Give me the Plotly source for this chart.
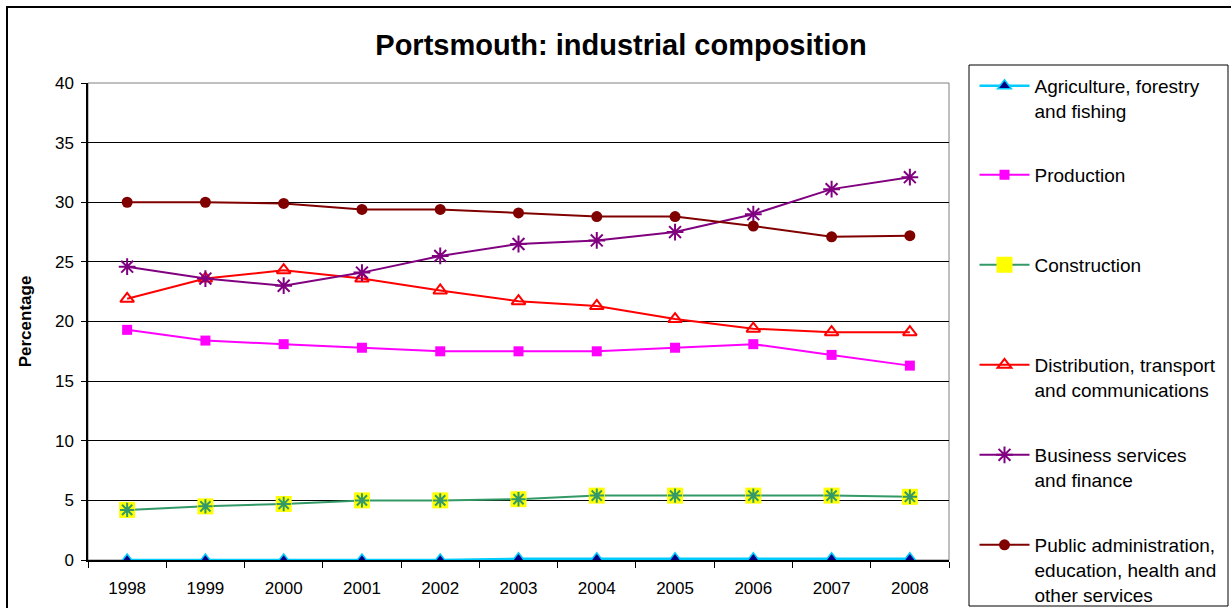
import plotly.graph_objects as go

years = ["1998", "1999", "2000", "2001", "2002", "2003", "2004", "2005", "2006", "2007", "2008"]

agriculture = [0.0, 0.0, 0.0, 0.0, 0.0, 0.1, 0.1, 0.1, 0.1, 0.1, 0.1]
production = [19.3, 18.4, 18.1, 17.8, 17.5, 17.5, 17.5, 17.8, 18.1, 17.2, 16.3]
construction = [4.2, 4.5, 4.7, 5.0, 5.0, 5.1, 5.4, 5.4, 5.4, 5.4, 5.3]
distribution = [21.9, 23.6, 24.3, 23.6, 22.6, 21.7, 21.3, 20.2, 19.4, 19.1, 19.1]
business = [24.6, 23.6, 23.0, 24.1, 25.5, 26.5, 26.8, 27.5, 29.0, 31.1, 32.1]
public_admin = [30.0, 30.0, 29.9, 29.4, 29.4, 29.1, 28.8, 28.8, 28.0, 27.1, 27.2]

names = [
    "Agriculture, forestry<br>and fishing",
    "Production",
    "Construction",
    "Distribution, transport<br>and communications",
    "Business services<br>and finance",
    "Public administration,<br>education, health and<br>other services",
]

W, H = 1231, 608
L, R, T, B = 88, 949, 83, 560


def px_x(p):
    return (p - L) / (R - L)


def px_y(p):
    return (B - p) / (B - T)


fig = go.Figure()

fig.add_trace(go.Scatter(
    x=years, y=agriculture, name=names[0], legend="legend", mode="lines+markers",
    line=dict(color="#00CCFF", width=2.5),
    marker=dict(symbol="triangle-up", size=12, color="#000080", line=dict(color="#00CCFF", width=1.5)),
))
fig.add_trace(go.Scatter(
    x=years, y=production, name=names[1], legend="legend2", mode="lines+markers",
    line=dict(color="#FF00FF", width=2),
    marker=dict(symbol="square", size=10, color="#FF00FF"),
))
fig.add_trace(go.Scatter(
    x=years, y=construction, name=names[2], legend="legend3", mode="lines+markers",
    line=dict(color="#339966", width=2),
    marker=dict(symbol="square", size=16, color="#FFFF00"),
))
fig.add_trace(go.Scatter(
    x=years, y=construction, name="Construction", legend="legend3", mode="markers",
    showlegend=False,
    marker=dict(symbol="asterisk-open", size=12, color="#339966", line=dict(color="#339966", width=2)),
))
fig.add_trace(go.Scatter(
    x=years, y=distribution, name=names[3], legend="legend4", mode="lines+markers",
    line=dict(color="#FF0000", width=2),
    marker=dict(symbol="triangle-up-open", size=12, color="#FF0000", line=dict(color="#FF0000", width=2)),
))
fig.add_trace(go.Scatter(
    x=years, y=business, name=names[4], legend="legend5", mode="lines+markers",
    line=dict(color="#800080", width=2),
    marker=dict(symbol="asterisk-open", size=14, color="#800080", line=dict(color="#800080", width=2)),
))
fig.add_trace(go.Scatter(
    x=years, y=public_admin, name=names[5], legend="legend6", mode="lines+markers",
    line=dict(color="#800000", width=2),
    marker=dict(symbol="circle", size=11, color="#800000"),
))

font_family = "Liberation Sans, Arial, sans-serif"

legend_marker_px = [86, 175, 265, 365, 455, 545]
legend_keys = ["legend", "legend2", "legend3", "legend4", "legend5", "legend6"]
legend_layouts = {}
for key, my in zip(legend_keys, legend_marker_px):
    legend_layouts[key] = dict(
        x=px_x(974.5), xanchor="left", y=px_y(my - 19), yanchor="top",
        bgcolor="rgba(0,0,0,0)", borderwidth=0,
        font=dict(size=19, family=font_family, color="black"),
        itemwidth=50, valign="top",
    )

fig.update_layout(
    width=W, height=H,
    margin=dict(l=L, r=W - R, t=T, b=H - B, autoexpand=False),
    paper_bgcolor="white", plot_bgcolor="white",
    font=dict(family=font_family, color="black", size=17),
    title=dict(
        text="<b>Portsmouth: industrial composition</b>",
        x=621 / W, xref="container", xanchor="center",
        y=1 - 45 / H, yref="container", yanchor="middle",
        font=dict(size=29, family=font_family, color="black"),
    ),
    showlegend=True,
    xaxis=dict(
        type="category", range=[-0.5, 10.5],
        showgrid=False, showline=True, linecolor="black", linewidth=1.5,
        ticks="outside", tickson="boundaries", ticklen=6, tickcolor="black",
        tickfont=dict(size=17), zeroline=False, ticklabelstandoff=12,
    ),
    yaxis=dict(
        range=[0, 40], dtick=5, tick0=0,
        showgrid=True, gridcolor="black", gridwidth=1,
        showline=True, linecolor="black", linewidth=1.5,
        ticks="outside", ticklen=5, tickcolor="black",
        tickfont=dict(size=17), zeroline=False, ticklabelstandoff=4,
        title=dict(text="<b>Percentage</b>", font=dict(size=17), standoff=19),
    ),
    shapes=[
        dict(type="rect", xref="paper", yref="paper",
             x0=0, x1=1, y0=0, y1=1, line=dict(color="#808080", width=1), layer="below"),
        dict(type="rect", xref="paper", yref="paper",
             x0=px_x(7), x1=px_x(1245), y0=px_y(620), y1=px_y(7),
             line=dict(color="black", width=2)),
        dict(type="rect", xref="paper", yref="paper",
             x0=px_x(969), x1=px_x(1228), y0=px_y(606), y1=px_y(65),
             line=dict(color="black", width=1)),
    ],
    **legend_layouts,
)

fig.write_html(
    "out.html",
    config={"displayModeBar": False},
    post_script="document.body.style.margin='0';document.body.style.overflow='hidden';",
)
